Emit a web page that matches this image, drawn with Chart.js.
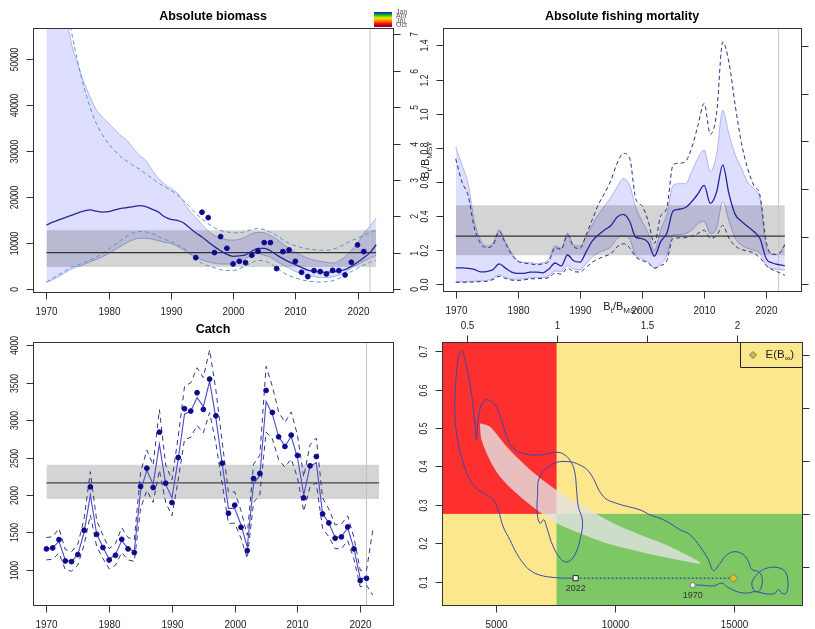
<!DOCTYPE html>
<html>
<head>
<meta charset="utf-8">
<script src="https://cdn.jsdelivr.net/npm/chart.js@4.4.1/dist/chart.umd.min.js"></script>
<style>
  html, body { margin: 0; padding: 0; background: #fff; }
  #wrap { position: relative; width: 815px; height: 629px; overflow: hidden; }
  #wrap canvas { position: absolute; left: 0; top: 0; }
</style>
</head>
<body>
<div id="wrap">
  <canvas id="bio" width="815" height="629"></canvas>
  <canvas id="fmort" width="815" height="629"></canvas>
  <canvas id="catch" width="815" height="629"></canvas>
  <canvas id="kobe" width="815" height="629"></canvas>
</div>
<script>
// ── Data ────────────────────────────────────────────────────────
const YEARS = [1970, 1971, 1972, 1973, 1974, 1975, 1976, 1977, 1978, 1979,
               1980, 1981, 1982, 1983, 1984, 1985, 1986, 1987, 1988, 1989,
               1990, 1991, 1992, 1993, 1994, 1995, 1996, 1997, 1998, 1999,
               2000, 2001, 2002, 2003, 2004, 2005, 2006, 2007, 2008, 2009,
               2010, 2011, 2012, 2013, 2014, 2015, 2016, 2017, 2018, 2019,
               2020, 2021, 2022, 2023];

// Absolute biomass
const B_EST = [13900, 14500, 15000, 15500, 16000, 16500, 16900, 17200, 16900, 16700,
               16800, 17200, 17500, 17700, 17900, 18100, 17900, 17300, 16700, 15700,
               15100, 14900, 14400, 13300, 12200, 11300, 10200, 9200, 8300, 7500,
               7100, 7200, 7400, 8200, 8800, 8800, 8300, 7400, 6600, 5900,
               5300, 4700, 4100, 3800, 3700, 3600, 3700, 3900, 4200, 4900,
               5800, 6800, 7900, 9600];
const B_UP  = [200000, 120000, 85000, 62000, 53500, 49000, 45000, 41800, 39000, 37300,
               36000, 34600, 33300, 32200, 30500, 29000, 27900, 25800, 24000, 22800,
               21800, 20900, 19000, 17000, 15500, 14000, 12600, 11600, 11000, 10700,
               10600, 10800, 11300, 12000, 12300, 12200, 11600, 10800, 9800, 8800,
               8000, 7300, 6700, 6300, 6000, 5800, 5600, 6100, 7000, 8400,
               10000, 12000, 13700, 15400];
const B_LO  = [1400, 2000, 2700, 3500, 4300, 4800, 5300, 5900, 6400, 7000,
               7700, 8500, 9300, 10100, 10700, 11000, 11000, 10800, 10500, 10100,
               9900, 9300, 8500, 7600, 6900, 6300, 5900, 5600, 5400, 5400,
               5500, 5900, 6600, 7300, 7700, 7300, 6900, 6000, 5200, 4500,
               3800, 3400, 3000, 2700, 2500, 2500, 2600, 3000, 3600, 4500,
               5300, 6000, 6700, 7300];
const B_UPD = [180000, 110000, 80000, 64000, 56000, 49500, 44000, 39500, 36000, 33500,
               31500, 30000, 28700, 27700, 26800, 26000, 25000, 24000, 23000, 22200,
               21400, 20500, 19300, 17900, 16400, 15200, 14200, 13300, 12700, 12400,
               12200, 12200, 12500, 12900, 13100, 12900, 12300, 11600, 10700, 9900,
               9400, 9000, 8700, 8500, 8400, 8400, 8600, 9100, 9800, 10500,
               11000, 11700, 12300, 12800];
const B_LOD = [1500, 2300, 3100, 3900, 4700, 5200, 5700, 6300, 6900, 7700,
               8600, 9600, 10600, 11500, 12200, 12500, 12400, 12000, 11400, 10800,
               10300, 9700, 8900, 7900, 6500, 5600, 5000, 4600, 4200, 4000,
               4000, 4400, 5000, 5700, 6200, 6100, 5500, 4600, 3600, 2900,
               2400, 2000, 1700, 1600, 1500, 1600, 1800, 2300, 3000, 3800,
               4500, 5200, 5800, 6200];
const IDX_YEARS = [1994, 1995, 1996, 1997, 1998, 1999, 2000, 2001, 2002, 2003,
                   2004, 2005, 2006, 2007, 2008, 2009, 2010, 2011, 2012, 2013,
                   2014, 2015, 2016, 2017, 2018, 2019, 2020, 2021];
const IDX = [6800, 16670, 15500, 7900, 11370, 8840, 5430, 6010, 5720, 7320,
             8190, 10070, 10070, 4420, 8120, 8480, 6010, 3620, 2680, 3990,
             3770, 3260, 4060, 3990, 3040, 5800, 9570, 8120];
const BMSY = 7900, BMSY_LO = 4790, BMSY_HI = 12780;

// Absolute fishing mortality
const F_EST = [0.096, 0.096, 0.094, 0.088, 0.073, 0.075, 0.086, 0.120, 0.095, 0.072,
               0.064, 0.064, 0.072, 0.072, 0.067, 0.090, 0.125, 0.108, 0.172, 0.138,
               0.130, 0.190, 0.255, 0.290, 0.320, 0.345, 0.395, 0.410, 0.370, 0.275,
               0.268, 0.245, 0.165, 0.250, 0.300, 0.430, 0.440, 0.450, 0.484, 0.530,
               0.580, 0.474, 0.540, 0.700, 0.530, 0.410, 0.370, 0.340, 0.310, 0.268,
               0.150, 0.125, 0.115, 0.110];
const F_UP  = [0.806, 0.700, 0.590, 0.370, 0.260, 0.225, 0.240, 0.320, 0.250, 0.185,
               0.140, 0.130, 0.128, 0.122, 0.125, 0.150, 0.225, 0.212, 0.300, 0.228,
               0.225, 0.280, 0.350, 0.410, 0.460, 0.510, 0.570, 0.620, 0.580, 0.450,
               0.370, 0.300, 0.200, 0.320, 0.410, 0.580, 0.590, 0.590, 0.660, 0.740,
               0.787, 0.660, 0.760, 1.020, 0.880, 0.760, 0.680, 0.600, 0.560, 0.500,
               0.220, 0.180, 0.175, 0.239];
const F_LO  = [0.016, 0.016, 0.017, 0.018, 0.020, 0.022, 0.035, 0.055, 0.042, 0.030,
               0.030, 0.032, 0.038, 0.040, 0.040, 0.050, 0.078, 0.075, 0.110, 0.090,
               0.085, 0.120, 0.160, 0.185, 0.200, 0.220, 0.270, 0.285, 0.265, 0.170,
               0.150, 0.130, 0.095, 0.120, 0.170, 0.290, 0.292, 0.298, 0.317, 0.356,
               0.370, 0.298, 0.327, 0.484, 0.370, 0.270, 0.230, 0.210, 0.200, 0.180,
               0.110, 0.092, 0.088, 0.082];
const F_UPD = [0.735, 0.600, 0.520, 0.330, 0.240, 0.215, 0.230, 0.310, 0.240, 0.175,
               0.135, 0.125, 0.120, 0.115, 0.120, 0.135, 0.215, 0.205, 0.290, 0.220,
               0.210, 0.290, 0.380, 0.470, 0.535, 0.610, 0.710, 0.768, 0.740, 0.500,
               0.460, 0.370, 0.240, 0.400, 0.450, 0.700, 0.710, 0.720, 0.800, 0.930,
               1.060, 0.880, 1.000, 1.420, 1.300, 1.050, 0.830, 0.680, 0.580, 0.520,
               0.250, 0.175, 0.180, 0.230];
const F_LOD = [0.012, 0.012, 0.013, 0.014, 0.016, 0.018, 0.028, 0.047, 0.035, 0.025,
               0.023, 0.026, 0.032, 0.033, 0.035, 0.040, 0.065, 0.060, 0.095, 0.075,
               0.072, 0.100, 0.130, 0.150, 0.165, 0.180, 0.220, 0.238, 0.215, 0.160,
               0.140, 0.125, 0.095, 0.110, 0.140, 0.270, 0.272, 0.274, 0.282, 0.298,
               0.317, 0.270, 0.285, 0.345, 0.270, 0.225, 0.205, 0.195, 0.183, 0.155,
               0.110, 0.085, 0.070, 0.053];
const FMSY = 0.282, FMSY_LO = 0.170, FMSY_HI = 0.464, FMSY_TICK = 0.2795;

// Catch (observed 1970-2021, bounds to 2022)
const C_OBS = [1277, 1290, 1402, 1116, 1107, 1201, 1527, 2107, 1473, 1295,
               1129, 1192, 1406, 1277, 1228, 2112, 2357, 2098, 2839, 2156,
               1897, 2500, 3152, 3121, 3366, 3143, 3549, 3058, 2424, 1754,
               1862, 1567, 1254, 2219, 2286, 3397, 3103, 2777, 2647, 2799,
               2527, 1960, 2388, 2513, 1746, 1625, 1420, 1438, 1571, 1277,
               853, 884];
const C_EST = [1277, 1290, 1380, 1130, 1110, 1200, 1500, 2000, 1480, 1300,
               1140, 1200, 1390, 1280, 1250, 2050, 2330, 2140, 2680, 2140,
               1960, 2480, 3080, 3120, 3300, 3180, 3520, 3030, 2420, 1820,
               1820, 1600, 1300, 2150, 2260, 3250, 3080, 2780, 2650, 2780,
               2500, 2000, 2380, 2430, 1750, 1620, 1430, 1440, 1560, 1280,
               880, 890];
const C_UP  = [1430, 1440, 1550, 1270, 1240, 1340, 1680, 2310, 1660, 1460,
               1280, 1350, 1560, 1430, 1400, 2300, 2600, 2400, 3140, 2400,
               2200, 2780, 3450, 3500, 3700, 3570, 3940, 3400, 2710, 2040,
               2040, 1790, 1460, 2410, 2530, 3720, 3450, 3110, 2970, 3110,
               2800, 2240, 2670, 2760, 1960, 1810, 1600, 1610, 1720, 1430,
               990, 990, 1530];
const C_LO  = [1130, 1140, 1220, 1000, 980, 1060, 1330, 1730, 1310, 1150,
               1010, 1060, 1230, 1130, 1110, 1820, 2060, 1900, 2330, 1900,
               1720, 2200, 2740, 2770, 2930, 2830, 3100, 2690, 2150, 1620,
               1620, 1420, 1150, 1900, 2000, 2840, 2750, 2470, 2370, 2480,
               2230, 1780, 2110, 2160, 1550, 1440, 1280, 1280, 1390, 1140,
               770, 790, 660];
const MSY = 2161, MSY_LO = 1946, MSY_HI = 2402;

// Kobe phase plot: trajectory (B_t, F_t) from 1970 to 2022
const KOBE_B = [13260, 13570, 14130, 14480, 14690, 15110, 15530, 15880, 16370, 16720,
                16860, 17000, 17180, 17260, 17140, 16790, 16370, 16090, 15880, 15740,
                15840, 16020, 16160, 16160, 16020, 15740, 15600, 15390, 15040, 14690,
                14410, 14130, 13920, 13570, 13150, 12730, 12310, 11890, 11470, 11050,
                10070, 9510, 8950, 8530, 7970, 7410, 6850, 6750, 6740, 6850,
                7020, 7130, 7410, 7760, 8040, 8320, 8530, 8640, 8460, 8390,
                8320, 8180, 7900, 7550, 6850, 6080, 5660, 5450, 5240, 4960,
                4610, 4400, 4260, 4190,
                4120, 3980, 3770, 3600, 3460, 3350, 3280, 3350, 3560, 3840,
                4190, 4610, 4890, 5100, 5310, 5590, 5870, 6150, 6430, 6850,
                7410, 7970, 8350];
const KOBE_F = [0.091, 0.091, 0.089, 0.096, 0.087, 0.074, 0.070, 0.074, 0.068, 0.070,
                0.080, 0.070, 0.070, 0.096, 0.126, 0.137, 0.135, 0.126, 0.113, 0.096,
                0.077, 0.074, 0.091, 0.113, 0.126, 0.132, 0.152, 0.170, 0.178, 0.170,
                0.148, 0.129, 0.157, 0.191, 0.222, 0.235, 0.252, 0.265, 0.274, 0.287,
                0.304, 0.322, 0.383, 0.404, 0.413, 0.407, 0.374, 0.322, 0.278, 0.252,
                0.261, 0.243, 0.191, 0.157, 0.152, 0.170, 0.209, 0.257, 0.296, 0.339,
                0.383, 0.409, 0.430, 0.437, 0.430, 0.435, 0.452, 0.478, 0.522, 0.561,
                0.574, 0.561, 0.522, 0.470,
                0.513, 0.591, 0.661, 0.700, 0.691, 0.643, 0.557, 0.487, 0.426, 0.374,
                0.343, 0.326, 0.313, 0.287, 0.243, 0.209, 0.174, 0.148, 0.130, 0.117,
                0.111, 0.109, 0.109];
// MSY confidence region (closed outline)
const CRES_B = [4330, 4750, 5450, 6290, 7130, 7970, 8810, 9930, 11050, 12310, 13600,
                12310, 11050, 9650, 8530, 7550, 6710, 5870, 5170, 4750, 4400, 4330];
const CRES_F = [0.513, 0.504, 0.452, 0.400, 0.357, 0.322, 0.291, 0.252, 0.222, 0.191, 0.148,
                0.161, 0.178, 0.200, 0.226, 0.252, 0.287, 0.330, 0.374, 0.417, 0.470, 0.513];
const BMSY_K = 7550, FMSY_K = 0.2765;
const B_INF = 14970, F_NOW = 0.109;

// ── Tick labels ─────────────────────────────────────────────────
const YEAR_TICKS = [1970, 1980, 1990, 2000, 2010, 2020];
const B_TICKS = [0, 10000, 20000, 30000, 40000, 50000];
const BREL_TICKS = [0, 1, 2, 3, 4, 5, 6, 7];
const F_TICKS = [0, 0.2, 0.4, 0.6, 0.8, 1.0, 1.2, 1.4];
const F_LABELS = ['0.0', '0.2', '0.4', '0.6', '0.8', '1.0', '1.2', '1.4'];
const FREL_TICKS = [0, 1, 2, 3, 4, 5];
const C_TICKS = [1000, 1500, 2000, 2500, 3000, 3500, 4000];
const KB_TICKS = [5000, 10000, 15000];
const KF_TICKS = [0.1, 0.2, 0.3, 0.4, 0.5, 0.6, 0.7];
const KTOP_TICKS = [0.5, 1, 1.5, 2];
const KRIGHT_TICKS = [0.5, 1, 1.5, 2, 2.5];

// ── Shared helpers ──────────────────────────────────────────────
const W = 815, H = 629;
const FONT = '"Liberation Sans", Arial, Helvetica, sans-serif';
const LAV_FILL = 'rgba(0,0,255,0.13)';
const LAV_EDGE = 'rgba(130,130,225,0.55)';
const GREY_FILL = 'rgba(0,0,0,0.17)';

const pts = (xs, ys) => ys.map((y, i) => ({ x: xs[i], y }));
const seg = (x0, y0, x1, y1) => [{ x: x0, y: y0 }, { x: x1, y: y1 }];

function text(ctx, str, x, y, o = {}) {
  ctx.save();
  ctx.translate(x, y);
  if (o.rot) ctx.rotate(-Math.PI / 2);
  ctx.scale(o.sx || 1, 1);
  ctx.font = o.font || `11.5px ${FONT}`;
  ctx.fillStyle = o.color || '#222';
  ctx.textAlign = o.align || 'center';
  ctx.textBaseline = 'middle';
  ctx.fillText(str, 0, 0);
  ctx.restore();
}

// text with subscripts: parts = [[text, isSub], ...]
function subText(ctx, parts, x, y, o = {}) {
  const size = o.size || 11;
  const big = `${size}px ${FONT}`, small = `${Math.round(size * 0.72)}px ${FONT}`;
  ctx.save();
  ctx.translate(x, y);
  if (o.rot) ctx.rotate(-Math.PI / 2);
  ctx.fillStyle = o.color || '#222';
  ctx.textBaseline = 'middle';
  ctx.textAlign = 'left';
  let w = 0;
  parts.forEach(([t, s]) => { ctx.font = s ? small : big; w += ctx.measureText(t).width; });
  let cx = o.align === 'left' ? 0 : -w / 2;
  parts.forEach(([t, s]) => {
    ctx.font = s ? small : big;
    ctx.fillText(t, cx, s ? size * 0.32 : 0);
    cx += ctx.measureText(t).width;
  });
  ctx.restore();
}

const BREL_LABEL = [['B', false], ['t', true], ['/B', false], ['MSY', true]];

// box + R-style axes drawn on top of each panel, positions via the chart scales
function framePlugin(cfg) {
  return {
    id: 'frame_' + cfg.name,
    beforeDatasetsDraw(chart) { if (cfg.under) cfg.under(chart); },
    afterDraw(chart) {
      const { ctx, chartArea: a } = chart;
      const sx = chart.scales.x, sy = chart.scales.y;
      const L = Math.round(a.left) + 0.5, T = Math.round(a.top) + 0.5;
      const R = Math.round(a.right) + 0.5, B = Math.round(a.bottom) + 0.5;
      ctx.save();
      ctx.strokeStyle = '#333';
      ctx.lineWidth = 1;
      ctx.strokeRect(L, T, R - L, B - T);
      cfg.axes.forEach(ax => {
        const horiz = ax.side === 'bottom' || ax.side === 'top';
        const sc = horiz ? sx : sy;
        ax.values.forEach((v, i) => {
          const p = Math.round(sc.getPixelForValue(v)) + 0.5;
          ctx.beginPath();
          if (ax.side === 'bottom') { ctx.moveTo(p, B); ctx.lineTo(p, B + 7); }
          else if (ax.side === 'top') { ctx.moveTo(p, T); ctx.lineTo(p, T - 7); }
          else if (ax.side === 'left') { ctx.moveTo(L, p); ctx.lineTo(L - 7, p); }
          else { ctx.moveTo(R, p); ctx.lineTo(R + 7, p); }
          ctx.stroke();
          if (!ax.labels) return;
          const t = ax.labels[i];
          if (ax.side === 'bottom') text(ctx, t, p, B + 19, { sx: 0.86 });
          else if (ax.side === 'top') text(ctx, t, p, T - 17, { sx: 0.86 });
          else if (ax.side === 'left') text(ctx, t, L - 18.5, p, { rot: true, sx: 0.74 });
          else text(ctx, t, R + 21, p, { rot: true, sx: 0.74 });
        });
      });
      if (cfg.title) {
        text(ctx, cfg.title, (a.left + a.right) / 2, a.top - cfg.titleGap,
             { font: `bold 12.5px ${FONT}`, color: '#000' });
      }
      if (cfg.over) cfg.over(chart, ctx);
      ctx.restore();
    }
  };
}

function baseOptions(area, xr, yr) {
  return {
    responsive: false,
    animation: false,
    events: [],
    layout: { padding: { left: area[0], top: area[1], right: W - area[2], bottom: H - area[3] } },
    scales: {
      x: { type: 'linear', display: false, min: xr[0], max: xr[1] },
      y: { type: 'linear', display: false, min: yr[0], max: yr[1] }
    },
    plugins: { legend: { display: false }, tooltip: { enabled: false } },
    elements: { point: { radius: 0 }, line: { borderWidth: 1 } }
  };
}

// ══════════════════════════════════════════════════════════════
// ABSOLUTE BIOMASS
// ══════════════════════════════════════════════════════════════
const bioY = [-660, 56700];
new Chart(document.getElementById('bio'), {
  type: 'line',
  data: {
    datasets: [
      { data: pts(YEARS, B_UP), borderColor: LAV_EDGE, backgroundColor: LAV_FILL, fill: '+1',
        cubicInterpolationMode: 'monotone', order: 10 },
      { data: pts(YEARS, B_LO), borderColor: LAV_EDGE, fill: false,
        cubicInterpolationMode: 'monotone', order: 10 },
      { data: seg(1970, BMSY_HI, 2023, BMSY_HI), borderWidth: 0, backgroundColor: GREY_FILL, fill: '+1', order: 9 },
      { data: seg(1970, BMSY_LO, 2023, BMSY_LO), borderWidth: 0, fill: false, order: 9 },
      { data: seg(2022, bioY[0], 2022, bioY[1]), borderColor: '#c4c4c4', order: 8 },
      { data: pts(YEARS, B_UPD), borderColor: '#4d9dba', borderDash: [4, 3],
        cubicInterpolationMode: 'monotone', order: 5 },
      { data: pts(YEARS, B_LOD), borderColor: '#4d9dba', borderDash: [4, 3],
        cubicInterpolationMode: 'monotone', order: 5 },
      { data: seg(1970, BMSY, 2023, BMSY), borderColor: '#333', borderWidth: 1.2, order: 4 },
      { data: pts(YEARS, B_EST), borderColor: '#26269c', borderWidth: 1.3,
        cubicInterpolationMode: 'monotone', order: 3 },
      { data: pts(IDX_YEARS, IDX), showLine: false, pointRadius: 2.4, pointStyle: 'circle',
        pointBackgroundColor: '#0b0b8c', pointBorderColor: '#0b0b8c', order: 1 }
    ]
  },
  options: baseOptions([33, 28, 393, 292], [1967.84, 2025.7], bioY),
  plugins: [framePlugin({
    name: 'bio', title: 'Absolute biomass', titleGap: 11,
    axes: [
      { side: 'bottom', values: YEAR_TICKS, labels: YEAR_TICKS.map(String) },
      { side: 'left', values: B_TICKS, labels: B_TICKS.map(String) },
      { side: 'right', values: BREL_TICKS.map(k => k * BMSY), labels: BREL_TICKS.map(String) }
    ],
    over(chart, ctx) {
      const a = chart.chartArea;
      subText(ctx, BREL_LABEL, a.right + 33, (a.top + a.bottom) / 2, { rot: true, size: 11 });
      // season colour key
      const g = ctx.createLinearGradient(0, 12, 0, 27);
      ['#1010ff', '#10c010', '#f0f000', '#ff8000', '#ff0000', '#800040'].forEach((c, i, arr) =>
        g.addColorStop(i / (arr.length - 1), c));
      ctx.fillStyle = g;
      ctx.fillRect(374, 12, 18, 15);
      ['Jan', 'Apr', 'Jul', 'Oct'].forEach((m, i) =>
        text(ctx, m, 396, 12 + i * 4.3, { font: `7px ${FONT}`, color: '#555', align: 'left' }));
    }
  })]
});

// ══════════════════════════════════════════════════════════════
// ABSOLUTE FISHING MORTALITY
// ══════════════════════════════════════════════════════════════
const fY = [-0.039, 1.502];
new Chart(document.getElementById('fmort'), {
  type: 'line',
  data: {
    datasets: [
      { data: pts(YEARS, F_UP), borderColor: LAV_EDGE, backgroundColor: LAV_FILL, fill: '+1',
        cubicInterpolationMode: 'monotone', order: 10 },
      { data: pts(YEARS, F_LO), borderColor: LAV_EDGE, fill: false,
        cubicInterpolationMode: 'monotone', order: 10 },
      { data: seg(1970, FMSY_HI, 2023, FMSY_HI), borderWidth: 0, backgroundColor: GREY_FILL, fill: '+1', order: 9 },
      { data: seg(1970, FMSY_LO, 2023, FMSY_LO), borderWidth: 0, fill: false, order: 9 },
      { data: seg(2022, fY[0], 2022, fY[1]), borderColor: '#c4c4c4', order: 8 },
      { data: pts(YEARS, F_UPD), borderColor: '#2c2c7e', borderDash: [4, 3],
        cubicInterpolationMode: 'monotone', order: 5 },
      { data: pts(YEARS, F_LOD), borderColor: '#2c2c7e', borderDash: [4, 3],
        cubicInterpolationMode: 'monotone', order: 5 },
      { data: seg(1970, FMSY, 2023, FMSY), borderColor: '#333', borderWidth: 1.2, order: 4 },
      { data: pts(YEARS, F_EST), borderColor: '#2424a0', borderWidth: 1.3,
        cubicInterpolationMode: 'monotone', order: 3 }
    ]
  },
  options: baseOptions([443, 28, 801, 291], [1967.95, 2025.6], fY),
  plugins: [framePlugin({
    name: 'fmort', title: 'Absolute fishing mortality', titleGap: 11,
    axes: [
      { side: 'bottom', values: YEAR_TICKS, labels: YEAR_TICKS.map(String) },
      { side: 'left', values: F_TICKS, labels: F_LABELS },
      { side: 'right', values: FREL_TICKS.map(k => k * FMSY_TICK) }
    ]
  })]
});

// ══════════════════════════════════════════════════════════════
// CATCH
// ══════════════════════════════════════════════════════════════
const cY = [527, 4045];
const C_YEARS = YEARS.slice(0, C_OBS.length);
const CB_YEARS = YEARS.slice(0, C_UP.length);
new Chart(document.getElementById('catch'), {
  type: 'line',
  data: {
    datasets: [
      { data: seg(1970, MSY_HI, 2023, MSY_HI), borderWidth: 0, backgroundColor: GREY_FILL, fill: '+1', order: 9 },
      { data: seg(1970, MSY_LO, 2023, MSY_LO), borderWidth: 0, fill: false, order: 9 },
      { data: seg(2021, cY[0], 2021, cY[1]), borderColor: '#c4c4c4', order: 8 },
      { data: seg(1970, MSY, 2023, MSY), borderColor: '#444', borderWidth: 1.3, order: 6 },
      { data: pts(CB_YEARS, C_UP), borderColor: '#34348a', borderDash: [5, 4], order: 5 },
      { data: pts(CB_YEARS, C_LO), borderColor: '#34348a', borderDash: [5, 4], order: 5 },
      { data: pts(C_YEARS, C_EST), borderColor: '#4a4acb', borderWidth: 1.1, order: 3 },
      { data: pts(C_YEARS, C_OBS), showLine: false, pointRadius: 2.4, pointStyle: 'circle',
        pointBackgroundColor: '#0b0b8c', pointBorderColor: '#0b0b8c', order: 1 }
    ]
  },
  options: baseOptions([33, 342, 393, 605], [1967.86, 2025.22], cY),
  plugins: [framePlugin({
    name: 'catch', title: 'Catch', titleGap: 12,
    axes: [
      { side: 'bottom', values: YEAR_TICKS, labels: YEAR_TICKS.map(String) },
      { side: 'left', values: C_TICKS, labels: C_TICKS.map(String) }
    ]
  })]
});

// ══════════════════════════════════════════════════════════════
// KOBE PHASE PLOT
// ══════════════════════════════════════════════════════════════
const kX = [2744, 17845], kY = [0.0391, 0.7244];
const kobePath = pts(KOBE_B, KOBE_F);
new Chart(document.getElementById('kobe'), {
  type: 'line',
  data: {
    datasets: [
      { data: pts(CRES_B, CRES_F), borderWidth: 0, backgroundColor: 'rgba(226,226,226,0.8)',
        fill: 'shape', tension: 0.3, order: 10 },
      { data: seg(KOBE_B[KOBE_B.length - 1], F_NOW, B_INF, F_NOW), borderColor: '#1f2f9f',
        borderDash: [2, 2], order: 6 },
      { data: kobePath, borderColor: '#3a48b0', borderWidth: 1, tension: 0.4, order: 5 },
      { data: [kobePath[0]], showLine: false, pointRadius: 2.6, pointStyle: 'circle',
        pointBackgroundColor: '#fff', pointBorderColor: '#777', order: 2 },
      { data: [kobePath[kobePath.length - 1]], showLine: false, pointRadius: 3.6, pointStyle: 'rect',
        pointBackgroundColor: '#fff', pointBorderColor: '#222', order: 2 },
      { data: [{ x: B_INF, y: F_NOW }], showLine: false, pointRadius: 4.2, pointStyle: 'rectRot',
        pointBackgroundColor: '#e6c020', pointBorderColor: '#777', order: 1 }
    ]
  },
  options: baseOptions([442, 342, 802, 605], kX, kY),
  plugins: [framePlugin({
    name: 'kobe',
    axes: [
      { side: 'bottom', values: KB_TICKS, labels: KB_TICKS.map(String) },
      { side: 'left', values: KF_TICKS, labels: KF_TICKS.map(String) },
      { side: 'top', values: KTOP_TICKS.map(k => k * BMSY_K), labels: KTOP_TICKS.map(String) },
      { side: 'right', values: KRIGHT_TICKS.map(k => k * FMSY_K) }
    ],
    under(chart) {
      const { ctx, chartArea: a, scales: { x, y } } = chart;
      const xb = x.getPixelForValue(BMSY_K), yf = y.getPixelForValue(FMSY_K);
      ctx.save();
      ctx.fillStyle = '#fde78c';
      ctx.fillRect(a.left, a.top, a.right - a.left, a.bottom - a.top);
      ctx.fillStyle = '#fe2f2f';
      ctx.fillRect(a.left, a.top, xb - a.left, yf - a.top);
      ctx.fillStyle = '#7dc864';
      ctx.fillRect(xb, yf, a.right - xb, a.bottom - yf);
      ctx.restore();
    },
    over(chart, ctx) {
      const { chartArea: a, scales: { x, y } } = chart;
      subText(ctx, BREL_LABEL, (a.left + a.right) / 2, a.top - 35, { size: 11 });
      const first = kobePath[0], last = kobePath[kobePath.length - 1];
      text(ctx, '1970', x.getPixelForValue(first.x), y.getPixelForValue(first.y) + 10,
           { font: `9px ${FONT}`, color: '#333' });
      text(ctx, '2022', x.getPixelForValue(last.x), y.getPixelForValue(last.y) + 10,
           { font: `9px ${FONT}`, color: '#333' });
      // legend box
      const lx = Math.round(a.right - 62) + 0.5, ly = Math.round(a.top + 25) + 0.5;
      ctx.strokeStyle = '#222';
      ctx.beginPath();
      ctx.moveTo(lx, a.top); ctx.lineTo(lx, ly); ctx.lineTo(a.right, ly);
      ctx.stroke();
      const dx = lx + 12.5, dy = a.top + 13;
      ctx.beginPath();
      ctx.moveTo(dx, dy - 3.5); ctx.lineTo(dx + 3.5, dy); ctx.lineTo(dx, dy + 3.5); ctx.lineTo(dx - 3.5, dy);
      ctx.closePath();
      ctx.fillStyle = '#d9b43a'; ctx.fill();
      ctx.strokeStyle = '#777'; ctx.stroke();
      subText(ctx, [['E(B', false], ['\u221e', true], [')', false]], lx + 25, dy, { size: 11.5, align: 'left' });
    }
  })]
});
</script>
</body>
</html>
